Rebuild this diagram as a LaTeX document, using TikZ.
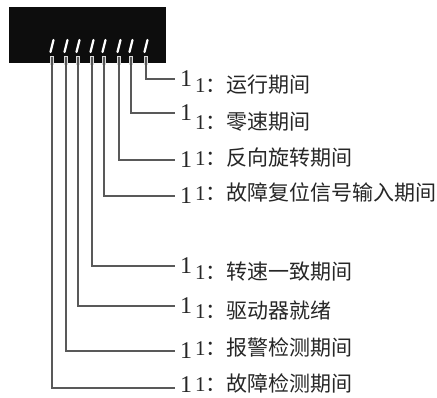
\documentclass[tikz,border=0pt]{standalone}
\usepackage{fontspec}
\setmainfont{Liberation Serif}
\newfontfamily\cjk{Noto Sans CJK SC}
\begin{document}
\begin{tikzpicture}[x=1pt,y=-1pt,
  lead/.style={draw=black!65,line width=1.3pt},
  glyph/.style={inner sep=0pt,text=black!85,font=\fontsize{24}{24}\selectfont},
  lbl/.style={anchor=west,inner sep=0pt,text=black!85,font=\fontsize{21}{21}\selectfont},
  slash/.style={draw=white,line width=2.2pt,line cap=round},
  pin/.style={draw=white!85!black,fill=black!70,line width=0.5pt}]
\useasboundingbox (0,0) rectangle (437,397);
\node[fill=black!95,minimum width=157pt,minimum height=56pt,inner sep=0pt,anchor=north west] (box) at (9,7) {};
% slashes and pins
\foreach \i/\x in {1/146,2/131,3/119,4/104,5/92,6/78,7/66,8/52}{
  \draw[slash] (\x-1.5,52) -- (\x+1.5,40);
  \draw[pin] (\x-1.6,56) rectangle (\x+1.6,64);
  \coordinate (p\i) at (\x,57);
}
% line ends and glyphs
\foreach \i/\y/\gy in {1/79/79,2/113/113,3/160/160,4/196/196,5/266/266,6/306/306,7/351/351,8/388/385}{
  \coordinate (e\i) at (175,\y);
  \node[glyph] (g\i) at (186,\gy) {1};
}
\node[lbl] (t1) at (195,85) {1{\cjk ：运行期间}};
\node[lbl] (t2) at (195,122) {1{\cjk ：零速期间}};
\node[lbl] (t3) at (195,158) {1{\cjk ：反向旋转期间}};
\node[lbl] (t4) at (195,192) {1{\cjk ：故障复位信号输入期间}};
\node[lbl] (t5) at (195,272) {1{\cjk ：转速一致期间}};
\node[lbl] (t6) at (195,311) {1{\cjk ：驱动器就绪}};
\node[lbl] (t7) at (195,347) {1{\cjk ：报警检测期间}};
\node[lbl] (t8) at (195,383) {1{\cjk ：故障检测期间}};
\foreach \i in {1,...,8}{
  \draw[lead] (p\i) |- (e\i);
}
\end{tikzpicture}
\end{document}
